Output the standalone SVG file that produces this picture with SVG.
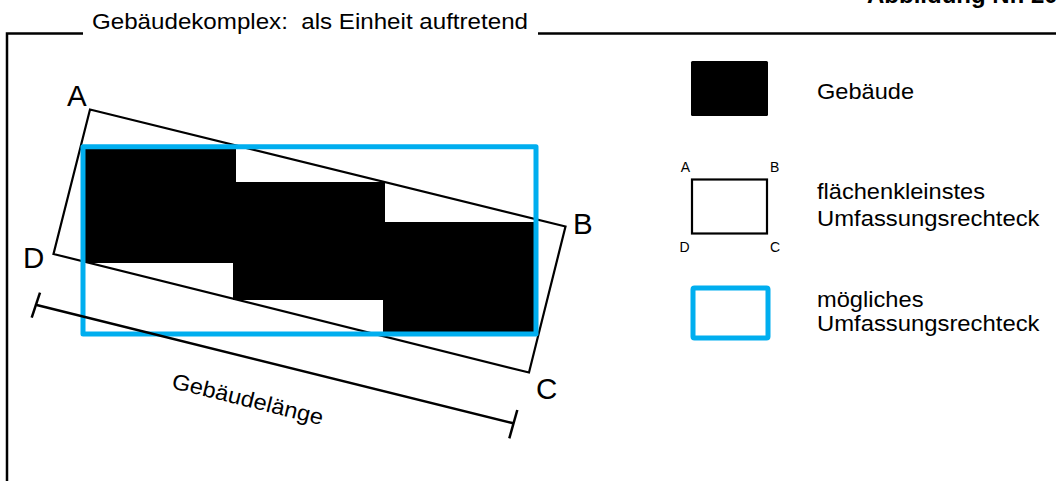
<svg xmlns="http://www.w3.org/2000/svg" width="1056" height="481" viewBox="0 0 1056 481">
  <style>
    .txt { font-family: "Liberation Sans", Arial, sans-serif; fill: #000; }
    .lbl { font-size: 22px; }
    .corner { font-size: 29.5px; }
    .small { font-size: 14px; }
    .frame { fill: none; stroke: #000; stroke-width: 2.5; }
    .hull { fill: none; stroke: #000; stroke-width: 2.2; stroke-linejoin: miter; }
    .blue { fill: none; stroke: #00AEEF; stroke-width: 5; stroke-linejoin: round; }
    .dim { fill: none; stroke: #000; stroke-width: 2.5; }
    .bldg { fill: #000; stroke: none; }
  </style>

  <!-- figure number, partly outside the page -->
  <text class="txt" x="867" y="2.5" font-size="24" font-weight="bold">Abbildung Nr. 20</text>

  <!-- outer frame with caption -->
  <g id="frame">
    <path class="frame" d="M7,481 V33.5 H83 M538,33.5 H1056"/>
    <text class="txt lbl" x="92" y="28.5" textLength="436" lengthAdjust="spacingAndGlyphs" xml:space="preserve">Gebäudekomplex:  als Einheit auftretend</text>
  </g>

  <!-- building blocks -->
  <g id="buildings">
    <rect class="bldg" x="84" y="148" width="152" height="115"/>
    <rect class="bldg" x="233" y="182" width="152" height="118"/>
    <rect class="bldg" x="383" y="222" width="152" height="111"/>
  </g>

  <!-- minimum-area bounding rectangle ABCD -->
  <g id="min-rect">
    <polygon class="hull" points="90,109.5 565.5,226.5 529,372.5 53.5,254"/>
    <text class="txt corner" x="67" y="105.7">A</text>
    <text class="txt corner" x="573" y="234.3">B</text>
    <text class="txt corner" x="536" y="399.3">C</text>
    <text class="txt corner" x="23" y="268.3">D</text>
  </g>

  <!-- possible axis-aligned bounding rectangle -->
  <g id="axis-rect">
    <rect class="blue" x="83" y="146.7" width="453" height="187.3"/>
  </g>

  <!-- building length dimension -->
  <g id="connectors">
    <line class="dim" x1="36.7" y1="305" x2="513.3" y2="423.3"/>
    <line class="dim" x1="40" y1="292.7" x2="31.7" y2="317.7"/>
    <line class="dim" x1="517.3" y1="410" x2="509.3" y2="438.3"/>
  </g>
  <g id="length-label">
    <text class="txt lbl" transform="translate(246,406.5) rotate(13.9)" text-anchor="middle" textLength="155" lengthAdjust="spacingAndGlyphs">Gebäudelänge</text>
  </g>

  <!-- legend -->
  <g id="legend-building">
    <rect class="bldg" x="691" y="61" width="77" height="55" rx="1.5"/>
    <text class="txt lbl" x="817" y="99" textLength="97" lengthAdjust="spacingAndGlyphs">Gebäude</text>
  </g>
  <g id="legend-min-rect">
    <rect x="692" y="179.5" width="75" height="54" fill="none" stroke="#000" stroke-width="2.2"/>
    <text class="txt small" x="680.7" y="171.7">A</text>
    <text class="txt small" x="770" y="171.7">B</text>
    <text class="txt small" x="679.6" y="252.3">D</text>
    <text class="txt small" x="770" y="252.3">C</text>
    <text class="txt lbl" x="817" y="199" textLength="168" lengthAdjust="spacingAndGlyphs">flächenkleinstes</text>
    <text class="txt lbl" x="817" y="226" textLength="222.5" lengthAdjust="spacingAndGlyphs">Umfassungsrechteck</text>
  </g>
  <g id="legend-axis-rect">
    <rect class="blue" x="693" y="288" width="75" height="50" rx="1.5"/>
    <text class="txt lbl" x="817" y="307" textLength="106.5" lengthAdjust="spacingAndGlyphs">mögliches</text>
    <text class="txt lbl" x="817" y="331" textLength="222.5" lengthAdjust="spacingAndGlyphs">Umfassungsrechteck</text>
  </g>
</svg>
